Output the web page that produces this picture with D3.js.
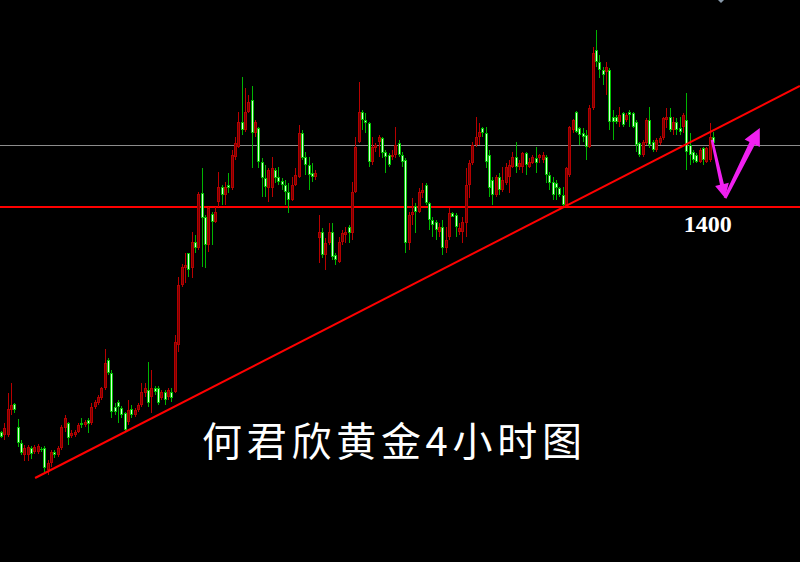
<!DOCTYPE html>
<html>
<head>
<meta charset="utf-8">
<script src="https://cdn.jsdelivr.net/npm/d3@7"></script>
<style>
html,body{margin:0;padding:0;background:#000;}
svg{display:block;}
</style>
</head>
<body>
<svg id="chart" width="800" height="562"></svg>
<script>
// ---- data (price units) ----
const open = [1355.0,1354.4,1354.4,1359.4,1360.6,1356.0,1352.8,1350.4,1350.4,1351.8,1351.0,1351.0,1351.6,1351.8,1347.4,1348.8,1351.0,1350.4,1351.8,1355.8,
1356.8,1354.2,1354.4,1355.0,1356.8,1356.4,1357.4,1356.8,1360.0,1360.8,1361.8,1363.8,1369.4,1366.8,1360.0,1361.0,1359.8,1358.8,1357.0,1359.6,
1358.4,1359.4,1360.4,1362.8,1363.4,1362.0,1363.8,1363.8,1361.8,1363.0,1362.0,1363.0,1363.0,1372.4,1384.4,1387.8,1390.8,1387.8,1393.0,1391.8,
1402.8,1398.0,1392.4,1398.6,1397.0,1401.0,1404.0,1402.4,1404.4,1403.8,1410.0,1412.0,1417.0,1415.4,1419.0,1421.4,1414.8,1415.8,1409.0,1405.8,
1403.8,1403.8,1407.4,1406.0,1405.2,1404.4,1403.0,1401.4,1404.4,1406.0,1414.8,1410.0,1408.4,1406.8,1406.0,1393.8,1395.0,1390.4,1392.8,1395.0,
1390.4,1389.0,1393.0,1394.4,1396.0,1394.8,1403.0,1413.0,1419.0,1417.4,1416.8,1409.0,1411.8,1413.0,1413.8,1411.0,1410.4,1410.0,1410.4,1412.8,
1410.4,1409.4,1392.8,1398.4,1400.2,1399.0,1402.8,1404.4,1400.8,1397.4,1397.0,1395.0,1396.0,1391.8,1394.0,1398.8,1398.4,1395.0,1395.0,1396.8,
1404.4,1408.8,1412.4,1414.0,1415.8,1414.8,1410.4,1405.4,1402.4,1406.0,1403.4,1404.8,1406.0,1408.0,1410.0,1408.0,1408.0,1410.8,1408.0,1408.8,
1409.8,1409.8,1409.4,1410.0,1406.4,1405.0,1404.8,1403.8,1402.4,1400.4,1406.4,1415.4,1419.0,1415.8,1414.8,1414.4,1412.0,1419.8,1431.4,1429.0,
1427.4,1427.0,1427.4,1418.0,1418.0,1417.0,1418.8,1417.4,1419.0,1418.8,1417.0,1412.8,1410.4,1412.8,1417.4,1413.0,1411.4,1412.8,1413.8,1417.4,
1418.0,1415.4,1417.0,1415.8,1416.0,1417.4,1412.4,1411.0,1410.4,1409.0,1411.8,1409.0,1409.4,1414.0];
const high = [1355.2,1356.8,1362.8,1364.8,1360.8,1357.6,1353.4,1352.4,1352.4,1352.2,1352.4,1352.6,1352.0,1352.2,1349.4,1351.4,1351.4,1352.2,1356.4,1358.4,
1357.0,1355.4,1355.4,1356.8,1357.8,1357.4,1357.8,1360.8,1361.4,1362.4,1364.0,1371.6,1369.8,1367.4,1360.8,1361.4,1360.2,1359.0,1361.4,1360.4,
1359.8,1360.8,1364.8,1364.8,1369.0,1367.4,1364.2,1364.2,1363.4,1363.4,1363.8,1363.8,1374.4,1386.0,1388.6,1390.8,1390.8,1395.0,1394.4,1403.0,
1407.8,1398.4,1400.0,1399.0,1400.0,1407.0,1404.4,1405.0,1406.8,1411.4,1414.0,1419.0,1426.0,1423.8,1422.4,1424.2,1417.4,1416.0,1409.8,1408.4,
1407.8,1410.0,1407.8,1408.0,1405.8,1405.4,1404.8,1406.0,1407.8,1416.4,1415.4,1411.0,1410.0,1408.8,1407.4,1398.4,1395.8,1393.8,1396.8,1396.8,
1390.8,1394.0,1395.4,1396.0,1396.4,1405.0,1414.0,1425.0,1419.4,1418.8,1417.0,1414.0,1412.8,1414.4,1414.0,1411.4,1410.8,1411.4,1416.0,1413.4,
1411.0,1409.8,1399.0,1401.8,1400.8,1403.8,1404.8,1404.8,1401.0,1398.0,1397.4,1396.8,1397.4,1396.0,1399.8,1399.0,1398.8,1396.8,1398.0,1407.8,
1409.4,1413.0,1418.0,1416.8,1416.0,1416.0,1411.4,1406.0,1406.4,1406.8,1408.0,1408.8,1409.4,1411.0,1413.0,1409.4,1411.0,1411.0,1409.8,1410.4,
1412.0,1410.6,1411.0,1410.4,1407.0,1406.0,1405.4,1404.0,1404.0,1408.0,1416.2,1417.6,1419.2,1416.0,1415.8,1415.4,1420.4,1432.0,1435.4,1430.4,
1428.0,1429.0,1427.8,1419.4,1418.4,1420.0,1419.0,1418.8,1419.4,1419.0,1417.4,1413.0,1413.4,1417.8,1420.0,1413.4,1413.8,1414.2,1418.0,1419.8,
1419.8,1418.0,1417.8,1418.0,1418.8,1422.8,1414.8,1411.4,1410.8,1411.8,1412.0,1412.0,1416.8,1415.0];
const low = [1353.8,1353.4,1354.0,1358.4,1358.8,1352.0,1350.4,1349.2,1349.2,1349.6,1350.6,1350.6,1351.0,1347.0,1346.4,1348.0,1349.8,1350.0,1351.4,1355.0,
1352.4,1353.8,1354.0,1354.8,1355.8,1356.0,1354.8,1356.4,1359.6,1360.4,1361.4,1363.4,1366.4,1357.8,1358.4,1356.8,1357.8,1355.0,1356.4,1357.8,
1358.0,1359.0,1360.0,1362.0,1360.0,1358.8,1362.4,1360.4,1361.4,1360.4,1361.4,1361.0,1362.8,1371.0,1384.0,1384.8,1386.0,1385.8,1390.8,1391.4,
1388.0,1387.8,1391.0,1392.4,1396.8,1400.0,1400.4,1400.4,1402.8,1403.4,1409.4,1411.8,1414.4,1415.0,1418.8,1407.8,1414.0,1407.8,1402.0,1402.0,
1401.0,1402.0,1404.8,1404.4,1403.4,1400.4,1398.8,1401.2,1404.2,1405.8,1409.4,1406.4,1403.4,1405.0,1405.4,1388.8,1389.8,1387.4,1392.4,1389.4,
1388.4,1388.8,1392.4,1392.8,1392.8,1393.4,1402.8,1412.8,1415.4,1414.8,1408.0,1408.4,1411.0,1410.0,1409.8,1406.8,1408.0,1409.4,1409.8,1410.0,
1408.0,1390.8,1391.4,1396.4,1394.8,1398.8,1401.8,1400.4,1395.4,1394.0,1393.4,1394.0,1390.4,1390.8,1393.4,1398.0,1394.0,1394.4,1392.8,1394.0,
1401.8,1408.4,1412.0,1412.4,1414.0,1407.8,1402.0,1400.4,1402.0,1402.4,1403.0,1404.4,1402.8,1407.8,1406.8,1407.4,1406.8,1406.4,1407.8,1408.6,
1406.8,1408.8,1408.8,1404.8,1403.4,1401.4,1401.4,1402.0,1400.0,1400.0,1406.0,1414.8,1414.8,1412.4,1413.0,1409.4,1411.8,1419.4,1428.0,1425.8,
1424.4,1422.4,1415.4,1413.4,1416.6,1416.0,1416.0,1417.0,1416.0,1415.8,1411.0,1410.0,1410.0,1412.4,1411.8,1411.0,1411.0,1412.4,1413.4,1415.8,
1415.0,1414.4,1414.4,1414.4,1414.8,1407.4,1408.4,1408.8,1408.8,1408.8,1408.4,1408.8,1409.0,1412.0];
const close = [1354.0,1355.8,1359.6,1360.4,1359.4,1352.8,1350.8,1351.8,1352.0,1350.6,1352.0,1352.2,1351.4,1347.8,1348.8,1351.0,1350.4,1351.8,1356.0,1357.8,
1353.8,1354.8,1355.0,1356.4,1356.4,1357.0,1356.6,1360.0,1361.0,1362.0,1363.8,1368.8,1366.8,1359.0,1359.0,1360.0,1358.4,1355.4,1359.4,1358.4,
1359.4,1360.4,1363.0,1363.8,1360.8,1363.8,1363.0,1360.8,1363.0,1361.4,1363.4,1361.8,1373.0,1384.4,1388.0,1388.4,1387.4,1393.0,1391.8,1402.6,
1397.8,1392.4,1399.8,1397.0,1399.0,1404.0,1402.4,1404.0,1403.8,1410.4,1412.8,1417.0,1415.4,1419.0,1421.0,1414.8,1417.0,1409.0,1405.8,1404.0,
1407.4,1407.8,1405.8,1405.0,1404.4,1403.0,1401.4,1404.4,1406.4,1414.8,1409.8,1408.4,1406.4,1406.0,1406.8,1395.0,1390.4,1392.8,1395.0,1390.0,
1389.4,1393.0,1394.8,1395.0,1394.8,1403.0,1412.0,1419.0,1417.4,1416.8,1409.0,1412.0,1412.4,1414.0,1410.8,1410.0,1408.4,1410.4,1412.4,1410.4,
1409.0,1392.8,1398.4,1399.0,1399.0,1403.0,1403.4,1400.8,1397.4,1396.4,1395.4,1396.0,1391.8,1393.4,1398.8,1398.0,1396.0,1395.8,1397.0,1404.4,
1408.8,1412.4,1414.0,1415.0,1414.8,1409.0,1403.8,1402.4,1406.0,1403.4,1405.4,1408.0,1408.4,1410.0,1408.0,1408.8,1410.8,1408.4,1409.0,1410.0,
1408.8,1410.4,1410.4,1406.4,1404.8,1402.4,1403.8,1402.4,1400.4,1407.8,1416.0,1417.4,1415.0,1414.4,1414.0,1412.0,1419.8,1430.8,1429.0,1427.4,
1426.4,1428.0,1417.0,1417.0,1417.0,1418.4,1416.4,1418.4,1418.4,1416.0,1412.4,1410.4,1413.0,1417.4,1412.4,1411.4,1413.4,1413.8,1417.8,1418.0,
1415.4,1417.0,1415.4,1415.0,1418.4,1411.0,1410.4,1409.4,1409.0,1411.4,1409.4,1411.8,1414.0,1412.8];

const supportLevel = 1400;          // red horizontal
const referenceLevel = 1412.4;      // grey horizontal
const trendPoints = [[10.2, 1345.8], [239, 1424.2]];   // [candle index, price]
const arrowDown = [[212.7, 1413.4], [216.6, 1401.8]];
const arrowUp = [[216.6, 1401.8], [227.0, 1415.8]];
const supportLabel = "1400";
const title = "何君欣黄金4小时图";

// ---- drawing ----
const W = 800, H = 562;
const svg = d3.select("#chart");
svg.append("rect").attr("width", W).attr("height", H).attr("fill", "#000");

const x = d3.scaleLinear().domain([0, 213]).range([1, 713]);
const y = d3.scaleLinear().domain([1329, 1441.4]).range([H, 0]);

const candles = open.map((o, i) => ({i, o, h: high[i], l: low[i], c: close[i]}));

// horizontal lines
svg.append("line").attr("x1", 0).attr("x2", W)
  .attr("y1", Math.round(y(referenceLevel)) + 0.5).attr("y2", Math.round(y(referenceLevel)) + 0.5)
  .attr("stroke", "#8c8c8c").attr("stroke-width", 1);
svg.append("line").attr("x1", 0).attr("x2", W)
  .attr("y1", Math.round(y(supportLevel))).attr("y2", Math.round(y(supportLevel)))
  .attr("stroke", "#ff0000").attr("stroke-width", 2);

// candles
const g = svg.append("g");
const up = d => d.c >= d.o;
const cx = d => Math.round(x(d.i));
g.selectAll("line.wick").data(candles).join("line")
  .attr("class", "wick")
  .attr("x1", d => cx(d) + 0.5).attr("x2", d => cx(d) + 0.5)
  .attr("y1", d => y(d.h)).attr("y2", d => y(d.l))
  .attr("stroke", d => up(d) ? "#b80000" : "#00b400").attr("stroke-width", 1);
g.selectAll("rect.body").data(candles).join("rect")
  .attr("class", "body")
  .attr("x", d => cx(d) - 1).attr("width", 3)
  .attr("y", d => y(Math.max(d.o, d.c)))
  .attr("height", d => Math.max(1, Math.abs(y(d.o) - y(d.c))))
  .attr("fill", d => up(d) ? "#b40000" : "#00c000");
g.selectAll("rect.core").data(candles).join("rect")
  .attr("class", "core")
  .attr("x", d => cx(d)).attr("width", 1)
  .attr("y", d => y(Math.max(d.o, d.c)) + 1)
  .attr("height", d => Math.max(0, Math.abs(y(d.o) - y(d.c)) - 2))
  .attr("fill", d => up(d) ? "#7a0000" : "#d8ffd8");

// trend line
const t0 = trendPoints[0], t1 = trendPoints[1];
svg.append("line")
  .attr("x1", x(t0[0])).attr("y1", y(t0[1]))
  .attr("x2", x(t1[0])).attr("y2", y(t1[1]))
  .attr("stroke", "#ff0000").attr("stroke-width", 2);

// arrows
function arrowPoly(a, b, w0, w1, headLen, headHalf) {
  const p0 = [x(a[0]), y(a[1])], p1 = [x(b[0]), y(b[1])];
  const dx = p1[0] - p0[0], dy = p1[1] - p0[1];
  const len = Math.hypot(dx, dy);
  const u = [dx / len, dy / len], n = [-u[1], u[0]];
  const base = [p1[0] - u[0] * headLen, p1[1] - u[1] * headLen];
  const pt = (p, k) => [p[0] + n[0] * k, p[1] + n[1] * k];
  return [pt(p0, w0 / 2), pt(base, w1 / 2), pt(base, headHalf), p1,
          pt(base, -headHalf), pt(base, -w1 / 2), pt(p0, -w0 / 2)];
}
const arrowColor = "#f020f0";
[[arrowDown, 2.5, 4, 14, 7], [arrowUp, 3, 6, 17, 8.5]].forEach(([pts, w0, w1, hl, hh]) => {
  svg.append("polygon")
    .attr("points", arrowPoly(pts[0], pts[1], w0, w1, hl, hh).map(p => p.join(",")).join(" "))
    .attr("fill", arrowColor);
});

// 1400 label
svg.append("text")
  .attr("x", x(211.4)).attr("y", y(supportLevel) + 25)
  .attr("text-anchor", "middle")
  .attr("font-family", "'Liberation Serif', 'DejaVu Serif', serif")
  .attr("font-weight", "bold").attr("font-size", 24)
  .attr("fill", "#ffffff")
  .text(supportLabel);

// title
svg.append("text")
  .attr("x", 202).attr("y", 456)
  .attr("font-family", "'Noto Sans CJK SC', sans-serif")
  .attr("font-size", 40)
  .attr("textLength", 380).attr("lengthAdjust", "spacing")
  .attr("fill", "#ffffff")
  .text(title);

// small marker at top right
svg.append("polygon").attr("points", "718,0 724,0 721,3").attr("fill", "#8899aa");
</script>
</body>
</html>
